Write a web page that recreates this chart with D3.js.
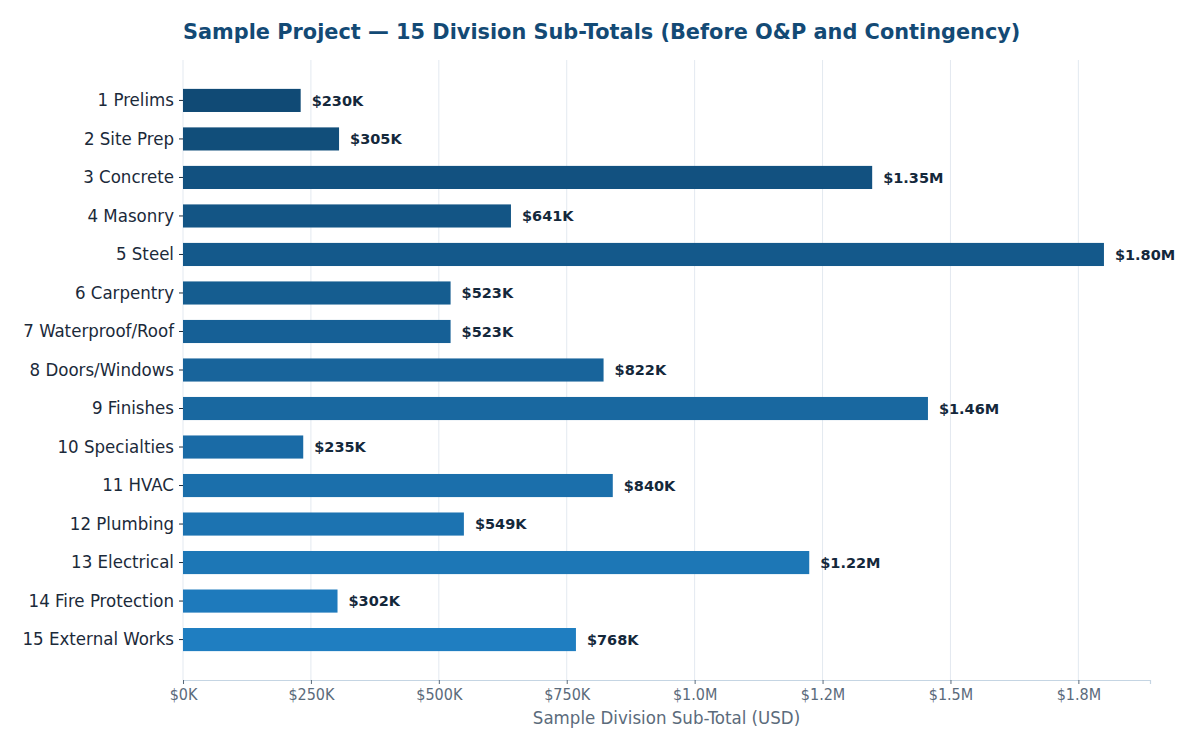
<!DOCTYPE html>
<html>
<head>
<meta charset="utf-8">
<script src="https://cdn.jsdelivr.net/npm/d3@7"></script>
<style>
  body { margin: 0; background: #fff; }
  svg { font-family: "DejaVu Sans Condensed", "DejaVu Sans", sans-serif; font-stretch: condensed; }
  .wide { font-family: "DejaVu Sans", sans-serif; font-stretch: normal; }
</style>
</head>
<body>
<div id="chart"></div>
<script>
var divisions = ["1 Prelims", "2 Site Prep", "3 Concrete", "4 Masonry", "5 Steel", "6 Carpentry",
    "7 Waterproof/Roof", "8 Doors/Windows", "9 Finishes", "10 Specialties", "11 HVAC",
    "12 Plumbing", "13 Electrical", "14 Fire Protection", "15 External Works"];
var subTotals = [230000, 305000, 1347000, 641000, 1800000, 523000, 523000, 822000,
    1456000, 235000, 840000, 549000, 1224000, 302000, 768000];
var valueLabels = ["$230K", "$305K", "$1.35M", "$641K", "$1.80M", "$523K", "$523K", "$822K",
    "$1.46M", "$235K", "$840K", "$549K", "$1.22M", "$302K", "$768K"];
var tickValues = [0, 250000, 500000, 750000, 1000000, 1250000, 1500000, 1750000];
var tickLabels = ["$0K", "$250K", "$500K", "$750K", "$1.0M", "$1.2M", "$1.5M", "$1.8M"];

function init() {
    var w = 1200;
    var h = 750;
    var left = 183, right = 1150, top = 60, bottom = 680;

    var svg = d3.select("#chart")
        .append("svg")
        .attr("width", w)
        .attr("height", h);

    var x = d3.scaleLinear()
        .domain([0, d3.max(subTotals) * 1.05])
        .range([left, right]);

    var y = d3.scaleBand()
        .domain(divisions)
        .range([top, bottom])
        .paddingInner(0.4)
        .paddingOuter(0.75);

    var colour = d3.interpolateRgb("#104a75", "#1f7ec1");

    // grid
    svg.append("g")
        .selectAll("line")
        .data(tickValues)
        .enter()
        .append("line")
        .attr("x1", function(d) { return x(d); })
        .attr("x2", function(d) { return x(d); })
        .attr("y1", top)
        .attr("y2", bottom)
        .attr("stroke", "#e3e9f0")
        .attr("stroke-width", 1);

    // bars
    svg.selectAll("rect.bar")
        .data(subTotals)
        .enter()
        .append("rect")
        .attr("class", "bar")
        .attr("x", x(0))
        .attr("y", function(d, i) { return y(divisions[i]); })
        .attr("width", function(d) { return x(d) - x(0); })
        .attr("height", y.bandwidth())
        .attr("fill", function(d, i) { return colour(i / (subTotals.length - 1)); });

    // value labels
    svg.selectAll("text.val")
        .data(subTotals)
        .enter()
        .append("text")
        .attr("class", "val wide")
        .text(function(d, i) { return valueLabels[i]; })
        .attr("x", function(d) { return x(d) + 11; })
        .attr("y", function(d, i) { return y(divisions[i]) + y.bandwidth() / 2; })
        .attr("dy", "0.35em")
        .attr("font-size", 14.5)
        .attr("font-weight", "bold")
        .attr("fill", "#14283b");

    // x axis
    var xAxis = svg.append("g")
        .attr("transform", "translate(0," + bottom + ")")
        .call(d3.axisBottom(x)
            .tickValues(tickValues)
            .tickFormat(function(d, i) { return tickLabels[i]; })
            .tickSize(4)
            .tickPadding(5));
    xAxis.attr("font-family", null);
    xAxis.select(".domain").attr("stroke", "#c5d5e3").attr("stroke-width", 1.2);
    xAxis.selectAll(".tick line").attr("stroke", "#5b6b7b");
    xAxis.selectAll(".tick text")
        .attr("font-size", 16)
        .attr("fill", "#5b6b7b");

    // y axis
    var yAxis = svg.append("g")
        .attr("transform", "translate(" + left + ",0)")
        .call(d3.axisLeft(y).tickSize(4).tickPadding(5));
    yAxis.attr("font-family", null);
    yAxis.select(".domain").remove();
    yAxis.selectAll(".tick line").attr("stroke", "#1b2a3a");
    yAxis.selectAll(".tick text")
        .attr("font-size", 18.5)
        .attr("fill", "#1b2a3a");

    // axis title
    svg.append("text")
        .text("Sample Division Sub-Total (USD)")
        .attr("x", (left + right) / 2)
        .attr("y", 724)
        .attr("text-anchor", "middle")
        .attr("font-size", 18.5)
        .attr("fill", "#5b6b7b");

    // chart title
    svg.append("text")
        .attr("class", "wide")
        .text("Sample Project \u2014 15 Division Sub-Totals (Before O&P and Contingency)")
        .attr("x", left)
        .attr("y", 39)
        .attr("font-size", 20.85)
        .attr("font-weight", "bold")
        .attr("fill", "#134a75");
}

window.onload = init;
</script>
</body>
</html>
